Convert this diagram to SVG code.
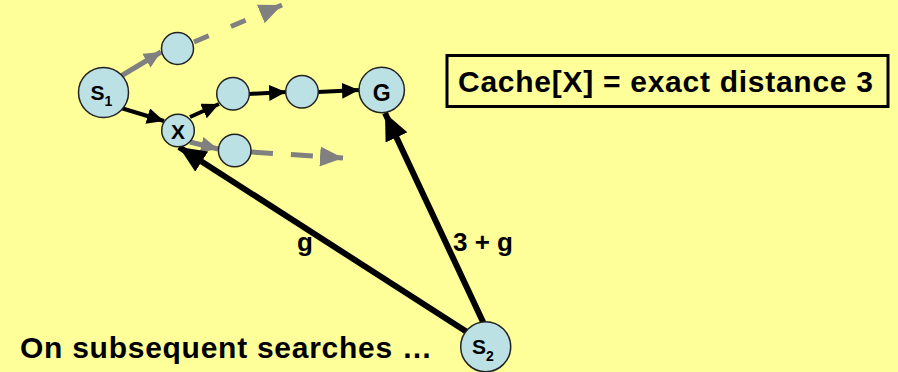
<svg xmlns="http://www.w3.org/2000/svg" width="898" height="372" viewBox="0 0 898 372">
<style>
  .node{fill:#BCE1E4;stroke:#222;stroke-width:1.5}
  .lbl{font-family:"Liberation Sans",Arial,sans-serif;font-weight:bold;fill:#000}
  .blk{stroke:#000;stroke-width:4;fill:none}
  .thick{stroke:#000;stroke-width:6;fill:none}
  .gry{stroke:#808080;stroke-width:5;fill:none}
</style>
<defs>
  <marker id="ab" markerUnits="userSpaceOnUse" markerWidth="18" markerHeight="16" refX="17" refY="8" orient="auto">
    <path d="M0,0 L17,8 L0,16 z" fill="#000"/>
  </marker>
  <marker id="ag" markerUnits="userSpaceOnUse" markerWidth="18" markerHeight="16" refX="17" refY="8" orient="auto">
    <path d="M0,0 L17,8 L0,16 z" fill="#808080"/>
  </marker>
  <marker id="agd" markerUnits="userSpaceOnUse" markerWidth="24" markerHeight="20" refX="23" refY="10" orient="auto">
    <path d="M0,0 L23,10 L0,20 z" fill="#808080"/>
  </marker>
  <marker id="abig" markerUnits="userSpaceOnUse" markerWidth="28" markerHeight="24" refX="27" refY="12" orient="auto">
    <path d="M0,0 L27,12 L0,24 z" fill="#000"/>
  </marker>
</defs>
<rect x="0" y="0" width="898" height="372" fill="#FFFF99"/>

<g id="connectors">
  <line class="gry" x1="121" y1="76" x2="161" y2="52" marker-end="url(#ag)"/>
  <line class="gry" x1="194" y1="42" x2="282" y2="5" stroke-dasharray="16 24" marker-end="url(#agd)"/>
  <line class="blk" x1="121" y1="108" x2="164" y2="121" marker-end="url(#ab)"/>
  <line class="blk" x1="190" y1="117" x2="219" y2="104" marker-end="url(#ab)"/>
  <line class="blk" x1="249" y1="94" x2="286" y2="92" marker-end="url(#ab)"/>
  <line class="blk" x1="318" y1="92" x2="359" y2="90" marker-end="url(#ab)"/>
  <line class="gry" x1="190" y1="142" x2="218" y2="149" marker-end="url(#ag)"/>
  <line class="gry" x1="251" y1="152" x2="343" y2="158" stroke-dasharray="22 18" marker-end="url(#agd)"/>
  <line class="thick" x1="467" y1="332" x2="179" y2="147" marker-end="url(#abig)"/>
  <line class="thick" x1="484" y1="324" x2="385" y2="113" marker-end="url(#abig)"/>
</g>

<g id="S1">
  <circle class="node" cx="103.5" cy="92.5" r="25"/>
  <text class="lbl" x="90.5" y="100" font-size="21">S<tspan font-size="14" dy="6">1</tspan></text>
</g>
<g id="n_top">
  <circle class="node" cx="177.5" cy="48.5" r="16"/>
</g>
<g id="X">
  <circle class="node" cx="178" cy="130.5" r="16.3"/>
  <text class="lbl" x="178" y="138.5" font-size="21" text-anchor="middle">X</text>
</g>
<g id="n_a">
  <circle class="node" cx="233" cy="93.7" r="16.3"/>
</g>
<g id="n_b">
  <circle class="node" cx="302" cy="91.8" r="16.3"/>
</g>
<g id="n_bottom">
  <circle class="node" cx="234.7" cy="150.5" r="16.3"/>
</g>
<g id="G">
  <circle class="node" cx="381.7" cy="90" r="22.7"/>
  <text class="lbl" x="381.7" y="100.5" font-size="23" text-anchor="middle">G</text>
</g>
<g id="S2">
  <circle class="node" cx="485.7" cy="346.7" r="25"/>
  <text class="lbl" x="472" y="354" font-size="21">S<tspan font-size="14" dy="7">2</tspan></text>
</g>

<g id="labels">
  <text class="lbl" x="297" y="251" font-size="26">g</text>
  <text class="lbl" x="453" y="251" font-size="26" textLength="60">3 + g</text>
  <text class="lbl" x="20" y="358" font-size="30" textLength="412">On subsequent searches …</text>
</g>

<g id="cache">
  <rect x="447" y="55.5" width="441" height="51" fill="none" stroke="#000" stroke-width="3"/>
  <text class="lbl" x="458" y="92" font-size="30" textLength="415">Cache[X] = exact distance 3</text>
</g>
</svg>
